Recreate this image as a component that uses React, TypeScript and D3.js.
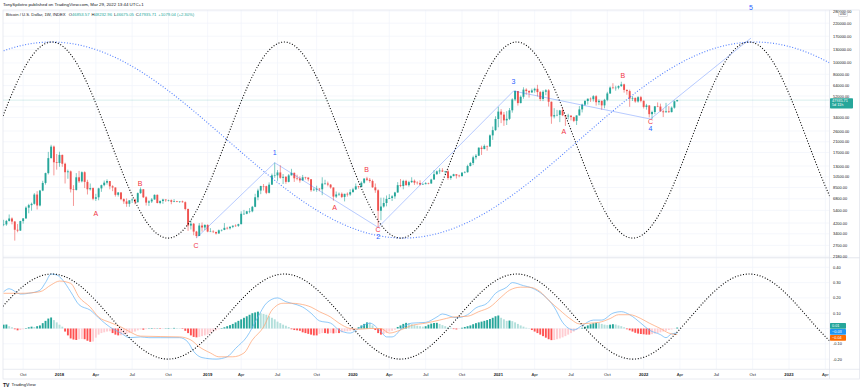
import React from 'react';
import * as d3 from 'd3';

type C = [number, number, number, number];

// Weekly candles [open, high, low, close], weeks starting Monday 2017-08-07
const candles2017: C[] = [
  [3220, 4200, 3200, 4070], [4070, 4480, 3950, 4090], [4090, 4470, 3980, 4380], [4380, 4980, 4330, 4600],
  [4600, 4700, 4100, 4330], [4330, 4380, 2970, 3680], [3680, 4120, 3500, 3620], [3620, 4400, 3600, 4370],
  [4370, 4620, 4150, 4610], [4610, 5850, 4560, 5700], [5700, 6150, 5100, 5990], [5990, 6300, 5370, 6150],
  [6150, 7600, 6050, 7390], [7390, 7900, 5500, 5950], [5950, 8100, 5850, 8000], [8000, 9700, 7900, 9300],
  [9300, 11400, 9000, 11300], [11300, 17200, 11000, 15200], [15200, 19800, 15100, 19100], [19100, 19500, 10800, 14000],
  [14000, 16500, 12100, 13800],
];
const candles2018: C[] = [
  [13800, 17250, 12800, 16200], [16200, 16300, 12800, 13600], [13600, 13900, 9200, 11500], [11500, 12100, 10100, 11700],
  [11700, 11900, 7700, 8200], [8200, 8900, 5900, 8100], [8100, 11300, 8000, 10400], [10400, 11800, 9300, 9600],
  [9600, 11700, 9400, 11500], [11500, 11700, 8400, 9500], [9500, 9900, 7400, 8200], [8200, 9200, 8000, 8400],
  [8400, 8500, 6600, 6800], [6800, 7500, 6500, 7000], [7000, 8450, 6600, 8350], [8350, 9000, 7800, 8900],
  [8900, 9750, 8700, 9350], [9350, 9990, 9000, 9650], [9650, 9650, 8200, 8700], [8700, 8900, 7900, 8500],
  [8500, 8500, 7100, 7350], [7350, 7760, 7100, 7700], [7700, 7750, 6600, 6750], [6750, 6850, 6150, 6450],
  [6450, 6850, 5800, 6150], [6150, 6550, 5800, 6600], [6600, 6850, 6250, 6700], [6700, 6800, 6100, 6350],
  [6350, 7700, 6300, 7600], [7600, 8500, 7500, 8200], [8200, 8250, 6900, 7000], [7000, 7150, 5950, 6300],
  [6300, 6600, 5900, 6450], [6450, 6900, 6250, 6700], [6700, 7400, 6700, 7350], [7350, 7400, 6200, 6250],
  [6250, 6600, 6100, 6500], [6500, 6800, 6150, 6700], [6700, 6700, 6400, 6600], [6600, 6680, 6450, 6600],
  [6600, 6700, 6100, 6400], [6400, 6750, 6350, 6480], [6480, 6520, 6350, 6400], [6400, 6480, 6250, 6450],
  [6450, 6550, 6300, 6350], [6350, 6450, 5400, 5550], [5550, 5600, 3600, 4000], [4000, 4450, 3700, 4150],
  [4150, 4200, 3300, 3550], [3550, 3600, 3130, 3250], [3250, 4200, 3250, 4000], [4000, 4250, 3550, 3850],
  [3850, 4100, 3650, 4050],
];
const candles2019: C[] = [
  [4050, 4100, 3500, 3550], [3550, 3800, 3530, 3550], [3550, 3650, 3450, 3520], [3520, 3550, 3350, 3420],
  [3420, 3700, 3400, 3640], [3640, 3700, 3560, 3670], [3670, 4200, 3650, 3820], [3820, 3900, 3700, 3790],
  [3790, 3950, 3700, 3900], [3900, 4000, 3800, 3990], [3990, 4100, 3900, 3980], [3980, 4150, 3900, 4110],
  [4110, 5300, 4100, 5050], [5050, 5450, 4950, 5050], [5050, 5350, 5000, 5300], [5300, 5650, 5100, 5300],
  [5300, 5900, 5200, 5800], [5800, 7500, 5750, 7000], [7000, 8300, 6600, 8000], [8000, 8800, 7450, 8750],
  [8750, 9100, 8000, 8720], [8720, 8800, 7450, 7650], [7650, 9400, 7550, 8990], [8990, 11200, 8950, 10800],
  [10800, 13900, 10300, 10800], [10800, 12000, 9700, 11450], [11450, 13200, 10100, 10300], [10300, 11100, 9100, 10500],
  [10500, 10650, 9150, 9500], [9500, 11100, 9400, 10800], [10800, 12300, 10800, 11350], [11350, 11450, 9500, 10200],
  [10200, 10950, 9800, 10150], [10150, 10600, 9350, 9770], [9770, 10900, 9750, 10400], [10400, 10500, 9950, 10350],
  [10350, 10350, 9600, 10000], [10000, 10050, 7800, 8050], [8050, 8500, 7900, 8150], [8150, 8800, 7800, 8300],
  [8300, 8400, 7900, 8200], [8200, 10400, 7300, 9200], [9200, 9900, 8950, 9200], [9200, 9550, 8700, 9000],
  [9000, 9100, 8300, 8500], [8500, 8500, 6550, 7100], [7100, 7850, 6900, 7400], [7400, 7700, 7200, 7500],
  [7500, 7700, 6900, 7050], [7050, 7500, 6450, 7500], [7500, 7700, 7100, 7400], [7400, 8200, 7200, 7750],
];
const candles2020: C[] = [
  [7750, 8450, 7700, 8180], [8180, 9200, 8100, 8700], [8700, 8750, 8300, 8600], [8600, 9600, 8550, 9330],
  [9330, 10150, 9150, 10150], [10150, 10500, 9650, 9900], [9900, 10250, 9350, 9670], [9670, 9950, 8450, 8530],
  [8530, 9200, 7650, 8040], [8040, 8200, 3850, 5360], [5360, 6950, 4450, 5830], [5830, 6950, 5700, 6250],
  [6250, 7250, 5850, 6780], [6780, 7450, 6750, 6910], [6910, 7300, 6500, 7130], [7130, 7800, 6800, 7700],
  [7700, 9450, 7650, 8900], [8900, 10050, 8550, 8750], [8750, 9900, 8200, 9680], [9680, 9900, 8800, 8900],
  [8900, 9700, 8650, 9450], [9450, 10400, 9300, 9700], [9700, 9950, 8950, 9350], [9350, 9600, 9000, 9300],
  [9300, 9800, 8850, 9000], [9000, 9300, 8950, 9080], [9080, 9450, 9050, 9250], [9250, 9350, 9050, 9200],
  [9200, 10100, 9150, 9950], [9950, 12000, 9950, 11050], [11050, 11900, 10950, 11700], [11700, 12450, 11150, 11900],
  [11900, 12450, 11550, 11650], [11650, 11800, 11150, 11700], [11700, 12100, 9900, 10250], [10250, 10800, 9900, 10650],
  [10650, 11150, 10600, 11050], [11050, 11050, 10150, 10750], [10750, 10950, 10400, 10650], [10650, 11500, 10550, 11400],
  [11400, 11750, 11250, 11500], [11500, 13350, 11400, 13000], [13000, 14100, 12900, 13800], [13800, 15950, 13250, 15450],
  [15450, 16500, 14800, 15950], [15950, 18800, 15850, 18700], [18700, 19450, 16200, 18200], [18200, 19900, 18100, 19350],
  [19350, 19450, 17600, 19150], [19150, 24300, 19000, 23850], [23850, 28400, 21800, 26450], [26450, 34800, 26100, 33000],
];
const candles2021: C[] = [
  [33000, 42000, 28000, 38200], [38200, 40100, 30400, 36000], [36000, 37900, 28800, 32100], [32100, 38500, 29300, 33100],
  [33100, 41000, 32300, 39200], [39200, 49700, 37400, 48600], [48600, 58300, 47000, 57400], [57400, 57500, 43000, 45200],
  [45200, 52600, 45000, 51200], [51200, 61800, 49300, 59000], [59000, 60600, 53300, 57400], [57400, 58400, 50400, 55800],
  [55800, 60200, 55500, 58100], [58100, 61300, 55500, 60000], [60000, 64900, 51500, 56200], [56200, 57500, 47000, 49000],
  [49000, 58400, 47000, 56600], [56600, 59600, 52900, 58200], [58200, 59600, 42200, 46400], [46400, 46600, 30000, 34700],
  [34700, 40900, 33400, 35600], [35600, 39500, 34800, 35800], [35800, 39500, 31000, 39100], [39100, 41300, 34900, 35500],
  [35500, 35600, 28800, 34700], [34700, 36600, 32700, 35300], [35300, 35300, 32100, 34250], [34250, 34600, 31000, 31800],
  [31800, 35400, 29300, 35400], [35400, 42600, 35300, 39900], [39900, 44700, 37600, 43800], [43800, 48100, 42800, 47100],
  [47100, 49400, 43900, 49300], [49300, 50500, 46300, 48800], [48800, 52900, 46600, 51800], [51800, 52900, 43000, 46000],
  [46000, 48800, 43400, 47300], [47300, 47400, 39600, 43200], [43200, 49200, 40800, 48200], [48200, 56500, 46900, 54700],
  [54700, 62900, 54200, 61500], [61500, 67000, 59500, 61300], [61300, 63700, 57800, 61300], [61300, 64200, 59400, 63300],
  [63300, 69000, 62300, 65500], [65500, 66400, 55600, 58700], [58700, 59300, 53300, 57300], [57300, 59000, 42000, 49400],
  [49400, 51900, 47100, 50100], [50100, 50500, 45500, 46700], [46700, 51900, 45600, 50800], [50800, 52100, 45900, 47300],
];
const candles2022: C[] = [
  [47300, 47600, 40600, 41900], [41900, 44500, 39700, 43100], [43100, 43500, 34000, 36300], [36300, 38900, 32900, 37900],
  [37900, 42600, 36300, 42400], [42400, 45800, 41700, 42200], [42200, 44700, 38000, 38400], [38400, 39800, 34300, 37700],
  [37700, 45400, 37500, 38400], [38400, 42500, 37200, 37800], [37800, 42300, 37600, 41300], [41300, 47500, 40500, 46850],
  [46853.57, 48232.96, 46675.05, 47935.71],
];

// MACD pane readings (week index from 2017-08-07, value)
const macdWeeks = [1,3,7,10,14,16,18,20,22,25,28,32,35,39,43,46,50,53,57,64,67,69,72,77,81,84,88,92,95,99,102,106,108,111,114,118,121,125,128,132,136,138,140,144,147,152,156,158,163,167,170,174,177,181,183,187,190,194,198,201,205,208,212,215,219,222,225,229,232,236,238,240,242];
const macdValues = [0.24,0.26,0.225,0.23,0.25,0.30,0.356,0.35,0.32,0.24,0.155,0.12,0.07,0.01,-0.03,-0.06,-0.055,-0.06,-0.06,-0.06,-0.09,-0.15,-0.19,-0.20,-0.185,-0.13,-0.055,0.075,0.165,0.20,0.175,0.155,0.14,0.10,0.05,0.035,-0.01,-0.03,0.00,0.035,-0.02,-0.055,-0.055,0.01,0.035,0.04,0.075,0.095,0.07,0.09,0.135,0.165,0.23,0.27,0.30,0.28,0.265,0.22,0.14,0.04,-0.01,0.02,0.055,0.055,0.10,0.11,0.09,0.035,-0.01,-0.04,-0.06,-0.035,-0.03];
const signalWeeks = [1,7,14,18,21,25,28,32,35,39,43,46,50,64,68,71,75,78,83,87,90,94,97,101,104,107,111,114,118,121,125,128,132,136,139,143,147,152,157,162,167,171,175,179,182,186,189,193,196,200,204,207,211,214,218,221,225,229,232,236,239,242];
const signalValues = [0.23,0.23,0.24,0.285,0.31,0.295,0.205,0.14,0.075,0.04,0.01,-0.02,-0.05,-0.055,-0.075,-0.12,-0.16,-0.185,-0.185,-0.16,-0.075,0.01,0.12,0.165,0.165,0.16,0.14,0.11,0.075,0.035,0.00,-0.005,0.00,0.00,-0.03,-0.01,0.02,0.035,0.055,0.075,0.08,0.11,0.14,0.205,0.25,0.27,0.27,0.24,0.185,0.12,0.06,0.03,0.035,0.04,0.065,0.09,0.09,0.065,0.035,0.00,-0.03,-0.04];
const histValues = [
  0.02,0.025,0.026,0.015,0.008,-0.005,-0.012,-0.01,-0.005,0.003,
  0.008,0.012,0.01,0.015,0.02,0.035,0.05,0.065,0.072,0.055,
  0.04,0.025,0.012,-0.02,-0.045,-0.065,-0.072,-0.075,-0.07,-0.068,
  -0.07,-0.08,-0.087,-0.085,-0.06,-0.04,-0.03,-0.025,-0.02,-0.018,
  -0.03,-0.04,-0.045,-0.044,-0.04,-0.035,-0.03,-0.025,-0.02,-0.012,
  -0.006,-0.008,-0.004,0.002,0.003,-0.002,0.001,-0.003,-0.002,0.002,
  0.003,0.002,0.004,0.003,0.002,-0.003,-0.015,-0.03,-0.045,-0.055,
  -0.058,-0.055,-0.05,-0.045,-0.04,-0.03,-0.02,-0.012,-0.005,0.003,
  0.008,0.015,0.022,0.03,0.04,0.05,0.06,0.07,0.08,0.09,
  0.1,0.105,0.11,0.1,0.095,0.09,0.08,0.07,0.06,0.045,
  0.035,0.025,0.018,0.01,-0.005,-0.01,-0.012,-0.015,-0.025,-0.03,
  -0.035,-0.04,-0.045,-0.045,-0.035,-0.03,-0.03,-0.033,-0.03,-0.032,
  -0.03,-0.03,-0.025,-0.02,-0.018,-0.015,-0.01,-0.005,0.008,0.02,
  0.03,0.04,0.038,0.02,-0.01,-0.03,-0.04,-0.035,-0.03,-0.02,
  -0.015,-0.008,0.01,0.02,0.03,0.037,0.035,0.028,0.022,0.018,
  0.015,0.012,0.015,0.025,0.032,0.036,0.037,0.03,0.022,0.015,
  0.01,0.005,-0.004,-0.006,-0.002,0.005,0.01,0.015,0.02,0.028,
  0.035,0.04,0.045,0.05,0.055,0.062,0.07,0.08,0.085,0.07,
  0.06,0.05,0.052,0.048,0.04,0.03,0.02,0.012,0.005,0.002,
  -0.01,-0.02,-0.03,-0.04,-0.05,-0.06,-0.07,-0.076,-0.075,-0.07,
  -0.065,-0.058,-0.05,-0.04,-0.03,-0.02,-0.01,-0.004,0.005,0.012,
  0.02,0.028,0.034,0.037,0.035,0.03,0.025,0.022,0.025,0.028,
  0.026,0.02,0.015,0.008,-0.005,-0.012,-0.02,-0.028,-0.033,-0.036,
  -0.038,-0.04,-0.04,-0.037,-0.033,-0.03,-0.025,-0.02,-0.015,-0.01,
  -0.006,-0.002,0.006,
];

// Axes (labels hidden behind the last-value boxes in the source are not printed)
const priceTicks = [280000, 220000, 170000, 130000, 100000, 80000, 64000, 52000, 42000, 34000, 26000, 21000, 17000, 13000, 10500, 8500, 6800, 5400, 4200, 3400, 2700, 2180];
const hiddenPriceTicks = [42000];
const macdTicks = [0.4, 0.3, 0.2, 0.1, 0, -0.1, -0.2];
const hiddenMacdTicks = [0];
const timeTickDates = ['2017-10-02','2018-01-01','2018-04-02','2018-07-02','2018-10-01','2019-01-07','2019-04-01','2019-07-01','2019-10-07','2020-01-06','2020-04-06','2020-07-06','2020-10-05','2021-01-04','2021-04-05','2021-07-05','2021-10-04','2022-01-03','2022-04-04','2022-07-04','2022-10-03','2023-01-02','2023-04-03'];
const timeTickLabels = ['Oct','2018','Apr','Jul','Oct','2019','Apr','Jul','Oct','2020','Apr','Jul','Oct','2021','Apr','Jul','Oct','2022','Apr','Jul','Oct','2023','Apr'];

// Drawings
const waveDates = ['2018-12-10', '2019-06-24', '2020-03-09', '2021-02-11', '2022-01-20', '2022-09-29'];
const wavePrices = [3130, 13880, 3860, 57400, 32950, 164000];
const waveLabelText = ['A','B','C','1','A','B','C','2','3','A','B','C','4','5'];
const waveLabelKind = ['r','r','r','b','r','r','r','b','b','r','r','r','b','b'];
const waveLabelDates = ['2018-04-02','2018-07-22','2018-12-09','2019-06-24','2019-11-21','2020-02-09','2020-03-09','2020-03-09','2021-02-11','2021-06-17','2021-11-12','2022-01-20','2022-01-20','2022-09-29'];
const waveLabelPrices = [5128, 9288, 2670, 16840, 5774, 12018, 3735, 3190, 70000, 26000, 77300, 31700, 27600, 303000];
const blackSineDates = ['2017-12-13', '2018-09-30'];
const blackSinePrices = [151500, 3120];
const blueSineDates = ['2017-12-12', '2020-05-11'];
const blueSinePrices = [151500, 3120];
const macdSineDates = ['2017-12-13', '2018-09-30'];
const macdSineValues = [0.356, -0.2];

const lastClose = 47935.71;

const dt = (s: string) => new Date(s + 'T00:00:00Z');
const FIRST = Date.UTC(2017, 7, 7);
const WEEK = 7 * 864e5;
const weekDate = (i: number) => new Date(FIRST + i * WEEK);

const x = d3.scaleTime().domain([new Date(FIRST), dt('2022-03-28')]).range([0.8, 677.2]);
const y = d3.scaleLog().domain([2180, 280000]).range([256.2, 11]);
const ym = d3.scaleLinear().domain([-0.2, 0.4]).range([359.1, 267.3]);

const LEFT = 3, RIGHT = 829.5;
const UP = '#26a69a', DOWN = '#ef5350';
const FONT = "'Liberation Sans', Arial, sans-serif";

function sinePath(xp: number, xt: number, yp: number, yt: number) {
  const half = xt - xp;
  const mid = (yp + yt) / 2;
  const amp = (yt - yp) / 2;
  const pts: [number, number][] = [];
  for (let px = LEFT - 2; px <= RIGHT + 2; px += 0.5) {
    pts.push([px, mid - amp * Math.cos((Math.PI * (px - xp)) / half)]);
  }
  return d3.line()(pts) || '';
}

export default function App() {
  const candles = [...candles2017, ...candles2018, ...candles2019, ...candles2020, ...candles2021, ...candles2022];
  const macdLine = d3.line<number>().x((_, k) => x(weekDate(macdWeeks[k]))).y((v) => ym(v)).curve(d3.curveMonotoneX)(macdValues) || '';
  const sigLine = d3.line<number>().x((_, k) => x(weekDate(signalWeeks[k]))).y((v) => ym(v)).curve(d3.curveMonotoneX)(signalValues) || '';
  const wavePath = d3.line<string>().x((d) => x(dt(d))).y((_, k) => y(wavePrices[k]))(waveDates) || '';
  const blackTop = sinePath(x(dt(blackSineDates[0])), x(dt(blackSineDates[1])), y(blackSinePrices[0]), y(blackSinePrices[1]));
  const blueTop = sinePath(x(dt(blueSineDates[0])), x(dt(blueSineDates[1])), y(blueSinePrices[0]), y(blueSinePrices[1]));
  const blackMacd = sinePath(x(dt(macdSineDates[0])), x(dt(macdSineDates[1])), ym(macdSineValues[0]), ym(macdSineValues[1]));

  const histColor = (i: number) => {
    const v = histValues[i];
    const p = i > 0 ? histValues[i - 1] : v;
    if (v >= 0) return p < v ? '#26a69a' : '#b2dfdb';
    return p < v ? '#ffcdd2' : '#ff5252';
  };

  const grid = '#f0f3fa';
  const border = '#e0e3eb';
  const txt = '#131722';
  const yl = y(lastClose);
  const mb = ym(0) - 2.6;

  return (
    <svg width={860} height={391} style={{ position: 'absolute', left: 0, top: 0, background: '#fff' }} fontFamily={FONT}>
      <defs>
        <clipPath id="topClip"><rect x={LEFT} y={10} width={RIGHT - LEFT} height={247.5} /></clipPath>
        <clipPath id="macdClip"><rect x={LEFT} y={258} width={RIGHT - LEFT} height={111} /></clipPath>
      </defs>
      <rect x={0} y={0} width={860} height={391} fill="#fff" />

      {/* header */}
      <text x={3} y={6.2} fontSize={4.4} fill={txt}>TonySpilotro published on TradingView.com, Mar 29, 2022 13:44 UTC+1</text>

      {/* grid */}
      {timeTickDates.map((d, k) => (
        <line key={'vg' + k} x1={x(dt(d))} x2={x(dt(d))} y1={10} y2={369} stroke={grid} strokeWidth={0.7} />
      ))}
      {priceTicks.map((v, k) => (
        <line key={'hg' + k} x1={LEFT} x2={RIGHT} y1={y(v)} y2={y(v)} stroke={grid} strokeWidth={0.7} />
      ))}
      {macdTicks.map((v, k) => (
        <line key={'mg' + k} x1={LEFT} x2={RIGHT} y1={ym(v)} y2={ym(v)} stroke={grid} strokeWidth={0.7} />
      ))}

      {/* frame */}
      <rect x={LEFT} y={10} width={860 - LEFT - 0.5} height={369} fill="none" stroke={border} strokeWidth={0.7} />
      <line x1={RIGHT} x2={RIGHT} y1={10} y2={379} stroke={border} strokeWidth={0.7} />
      <line x1={LEFT} x2={860} y1={257.8} y2={257.8} stroke={border} strokeWidth={0.9} />
      <line x1={LEFT} x2={860} y1={369.3} y2={369.3} stroke={border} strokeWidth={0.7} />

      {/* top pane */}
      <g clipPath="url(#topClip)">
        <line x1={LEFT} x2={RIGHT} y1={yl} y2={yl} stroke={UP} strokeOpacity={0.3} strokeWidth={0.6} />
        {candles.map((c, i) => {
          const [o, h, l, cl] = c;
          const cx = x(weekDate(i));
          const col = cl >= o ? UP : DOWN;
          const top = y(Math.max(o, cl));
          const bot = y(Math.min(o, cl));
          return (
            <g key={'c' + i}>
              <line x1={cx} x2={cx} y1={y(h)} y2={y(l)} stroke={col} strokeWidth={0.6} />
              <rect x={cx - 0.95} y={top} width={1.9} height={Math.max(0.5, bot - top)} fill={col} />
            </g>
          );
        })}
        <path d={blueTop} fill="none" stroke="#2962ff" strokeOpacity={0.8} strokeWidth={1.1} strokeDasharray="1 1.8" />
        <path d={blackTop} fill="none" stroke="#000" strokeWidth={1.1} strokeDasharray="1 1.8" />
        <path d={wavePath} fill="none" stroke="#2962ff" strokeOpacity={0.42} strokeWidth={0.8} />
      </g>

      {/* wave labels */}
      {waveLabelText.map((t, k) => (
        <text key={'wl' + k} x={x(dt(waveLabelDates[k]))} y={y(waveLabelPrices[k])} fontSize={7}
          textAnchor="middle" dominantBaseline="central" fill={waveLabelKind[k] === 'r' ? '#f23645' : '#2962ff'}>{t}</text>
      ))}

      {/* legend */}
      <text x={6} y={16.3} fontSize={4.2} fill={txt}>
        <tspan>Bitcoin / U.S. Dollar, 1W, INDEX  </tspan>
        <tspan dx={2}>O</tspan><tspan fill={UP}>46853.57</tspan>
        <tspan dx={2}>H</tspan><tspan fill={UP}>48232.96</tspan>
        <tspan dx={2}>L</tspan><tspan fill={UP}>46675.05</tspan>
        <tspan dx={2}>C</tspan><tspan fill={UP}>47935.71</tspan>
        <tspan dx={2} fill={UP}>+1079.04 (+2.30%)</tspan>
      </text>

      {/* MACD pane */}
      <g clipPath="url(#macdClip)">
        {histValues.map((v, i) => {
          const cx = x(weekDate(i));
          const y0 = ym(0), y1 = ym(v);
          return <rect key={'h' + i} x={cx - 0.95} y={Math.min(y0, y1)} width={1.9} height={Math.max(0.3, Math.abs(y1 - y0))} fill={histColor(i)} />;
        })}
        <path d={macdLine} fill="none" stroke="#64b5f6" strokeOpacity={0.9} strokeWidth={0.8} />
        <path d={sigLine} fill="none" stroke="#ffa270" strokeOpacity={0.9} strokeWidth={0.8} />
        <path d={blackMacd} fill="none" stroke="#000" strokeWidth={1.1} strokeDasharray="1 1.8" />
      </g>

      {/* price axis */}
      {priceTicks.filter((v) => !hiddenPriceTicks.includes(v)).map((v, k) => (
        <text key={'pt' + k} x={833} y={y(v)} fontSize={3.9} fill={txt} dominantBaseline="central">{v.toFixed(2)}</text>
      ))}
      <rect x={838.5} y={12} width={9} height={4.5} fill="#fff" stroke="#b2b5be" strokeWidth={0.4} rx={0.6} />
      <text x={843} y={14.4} fontSize={3} fill={txt} textAnchor="middle" dominantBaseline="central">USD</text>
      <rect x={830} y={yl - 1.9} width={23} height={10.3} fill={UP} rx={0.8} />
      <text x={832} y={yl + 0.7} fontSize={3.8} fill="#fff" dominantBaseline="central">{lastClose.toFixed(2)}</text>
      <text x={832} y={yl + 5.3} fontSize={3.8} fill="#fff" dominantBaseline="central">5d 11h</text>

      {macdTicks.filter((v) => !hiddenMacdTicks.includes(v)).map((v, k) => (
        <text key={'mt' + k} x={833} y={ym(v)} fontSize={3.9} fill={txt} dominantBaseline="central">{v.toFixed(2)}</text>
      ))}
      <rect x={830} y={mb - 3} width={16} height={5.8} fill={UP} rx={0.6} />
      <text x={832} y={mb} fontSize={3.8} fill="#fff" dominantBaseline="central">0.01</text>
      <rect x={830} y={mb + 3} width={16} height={5.8} fill="#2196f3" rx={0.6} />
      <text x={832} y={mb + 6} fontSize={3.8} fill="#fff" dominantBaseline="central">−0.03</text>
      <rect x={830} y={mb + 9} width={16} height={5.8} fill="#ff6d00" rx={0.6} />
      <text x={832} y={mb + 12} fontSize={3.8} fill="#fff" dominantBaseline="central">−0.04</text>

      {/* time axis */}
      {timeTickDates.map((d, k) => (
        <text key={'tt' + k} x={x(dt(d))} y={374.3} fontSize={4.2} fill={txt} textAnchor="middle" dominantBaseline="central"
          fontWeight={/^\d{4}$/.test(timeTickLabels[k]) ? 'bold' : 'normal'}>{timeTickLabels[k]}</text>
      ))}

      {/* footer logo */}
      <text x={3} y={386.5} fontSize={5} fill={txt} fontWeight="bold">TV</text>
      <text x={11.5} y={386.3} fontSize={4.4} fill={txt}>TradingView</text>
    </svg>
  );
}
